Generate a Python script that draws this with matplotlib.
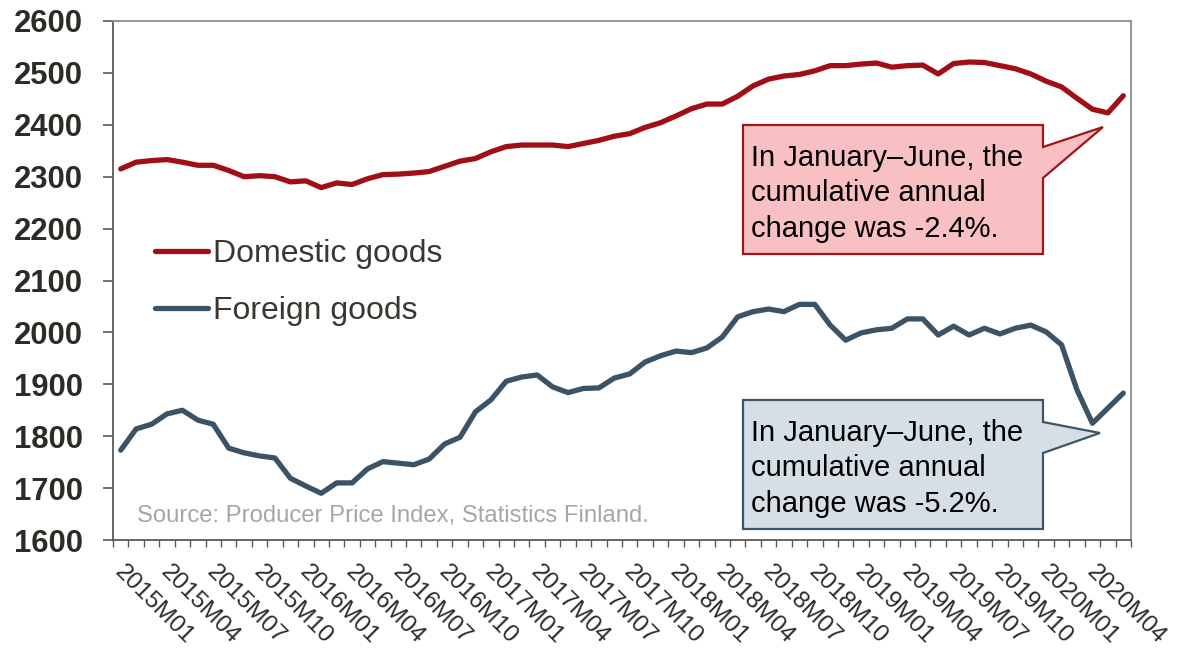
import matplotlib
matplotlib.use("Agg")
import matplotlib.pyplot as plt
from matplotlib.patches import Polygon
from matplotlib.transforms import ScaledTranslation
import numpy as np

# ---------------- data ----------------
years = [2015, 2016, 2017, 2018, 2019, 2020]
months = [f"{y}M{m:02d}" for y in years for m in range(1, 13)][:66]  # 2015M01..2020M06

domestic = [2315, 2328, 2331, 2333, 2328, 2322, 2322, 2312, 2300, 2302, 2300, 2290,
            2292, 2279, 2288, 2285, 2296, 2304, 2305, 2307, 2310, 2320, 2330, 2335,
            2348, 2358, 2361, 2361, 2361, 2358, 2364, 2370, 2378, 2383, 2395, 2404,
            2417, 2431, 2440, 2440, 2455, 2475, 2488, 2494, 2497, 2504, 2514, 2514,
            2517, 2519, 2511, 2514, 2515, 2498, 2518, 2521, 2520, 2514, 2508, 2498,
            2484, 2473, 2451, 2430, 2423, 2456]

foreign = [1773, 1814, 1823, 1843, 1850, 1831, 1823, 1777, 1768, 1762, 1758, 1719,
           1704, 1690, 1710, 1710, 1737, 1751, 1748, 1745, 1756, 1785, 1798, 1847,
           1870, 1906, 1914, 1918, 1895, 1884, 1892, 1893, 1912, 1920, 1943, 1955,
           1964, 1961, 1970, 1991, 2030, 2040, 2045, 2040, 2054, 2054, 2014, 1985,
           1999, 2005, 2008, 2026, 2026, 1995, 2012, 1995, 2008, 1997, 2008, 2014,
           2001, 1976, 1889, 1825, 1854, 1883]

series_names = ["Domestic goods", "Foreign goods"]
notes = ["In January\u2013June, the\ncumulative annual\nchange was -2.4%.",
         "In January\u2013June, the\ncumulative annual\nchange was -5.2%."]
source = "Source: Producer Price Index, Statistics Finland."

y_ticks = [1600, 1700, 1800, 1900, 2000, 2100, 2200, 2300, 2400, 2500, 2600]

# ---------------- style ----------------
RED = "#A20E16"
BLUE = "#3B5364"
TXT = "#2E2B26"
W, H = 1182, 652
plt.rcParams['font.family'] = ['Liberation Sans', 'DejaVu Sans']

fig = plt.figure(figsize=(W / 100, H / 100), dpi=100)
L, R, T, B = 113, 1131, 21, 540
ax = fig.add_axes([L / W, 1 - B / H, (R - L) / W, (B - T) / H])

x = np.arange(len(months))
ax.plot(x, domestic, color=RED, lw=3.8, solid_joinstyle='round', solid_capstyle='round',
        label=series_names[0], zorder=3)
ax.plot(x, foreign, color=BLUE, lw=3.8, solid_joinstyle='round', solid_capstyle='round',
        label=series_names[1], zorder=3)

ax.set_xlim(-0.5, len(months) - 0.5)
ax.set_ylim(y_ticks[0], y_ticks[-1])
ax.set_yticks(y_ticks)
ax.set_yticklabels([str(v) for v in y_ticks], fontsize=22.3, fontweight='bold', color=TXT)
ax.tick_params(axis='y', direction='out', length=7.5, width=1.2, color='#595959', pad=14)

# x ticks: labels every 3 months, tick marks at month boundaries
ax.set_xticks(x[::3])
ax.set_xticklabels(months[::3], fontsize=17.5, color=TXT)
ax.tick_params(axis='x', which='major', length=0, pad=15)
ax.set_xticks(np.arange(-0.5, len(months)), minor=True)
ax.tick_params(axis='x', which='minor', direction='out', length=5, width=1.0, color='#595959')
shift = ScaledTranslation(5 / 100, 0, fig.dpi_scale_trans)
for lab in ax.get_xticklabels():
    lab.set_rotation(-45)
    lab.set_ha('left')
    lab.set_va('top')
    lab.set_rotation_mode('anchor')
    lab.set_transform(lab.get_transform() + shift)

for s in ['left', 'bottom']:
    ax.spines[s].set_color('#595959')
    ax.spines[s].set_linewidth(1.3)
for s in ['top', 'right']:
    ax.spines[s].set_color('#8C8C8C')
    ax.spines[s].set_linewidth(1.3)

# legend
leg = ax.legend(loc='upper left', bbox_to_anchor=(155 / W, 1 - 239 / H),
                bbox_transform=fig.transFigure, frameon=False, fontsize=23,
                handlelength=1.66, handletextpad=0.17, labelspacing=0.86,
                borderpad=0, borderaxespad=0)
for t in leg.get_texts():
    t.set_color('#3A3631')

# source
fig.text(137 / W, 1 - 516 / H, source, fontsize=17.2, color='#A6A6A6', va='center', ha='left')

# callouts (figure pixel coords)
def px(pts):
    return [(a / W, 1 - b / H) for a, b in pts]

def callout(x0, y0, x1, y1, p1, tip, p2, fc, ec, text):
    pts = [(x0, y0), (x1, y0), (x1, p1), tip, (x1, p2), (x1, y1), (x0, y1)]
    poly = Polygon(px(pts), closed=True, transform=fig.transFigure, fc=fc, ec=ec,
                   lw=1.6, zorder=5)
    fig.patches.append(poly)
    fig.text((x0 + 8) / W, 1 - (y0 + 19) / H, text, fontsize=21, color='black',
             va='top', ha='left', linespacing=1.33, zorder=6)

callout(743, 125, 1043, 254, 147, (1103, 127), 178, '#F9C0C3', '#A0141C', notes[0])
callout(743, 400, 1043, 529, 422, (1100, 433), 453, '#D5DFE5', '#3F5566', notes[1])

fig.savefig('out.png', dpi=100)
